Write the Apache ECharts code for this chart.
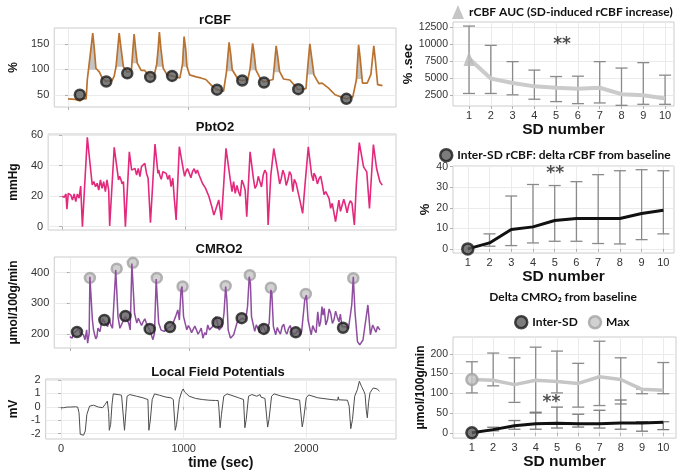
<!DOCTYPE html>
<html><head><meta charset="utf-8">
<script src="https://cdn.jsdelivr.net/npm/echarts@6/dist/echarts.min.js"></script>
<style>html,body{margin:0;padding:0;background:#fff}#c{width:680px;height:471px}</style>
</head><body><div id="c"></div>
<script>
// ---------- DATA ----------
const timeTicks = [0, 1000, 2000];
const rcbfTicks = [50, 100, 150];
const pbto2Ticks = [0, 20, 40, 60];
const cmro2Ticks = [200, 300, 400];
const lfpTicks = [-2, -1, 0, 1, 2];
const sdNumbers = [1, 2, 3, 4, 5, 6, 7, 8, 9, 10];
const aucTicks = [2500, 5000, 7500, 10000, 12500];
const interTicks = [0, 10, 20, 30, 40];
const deltaTicks = [0, 50, 100, 150, 200];

// rCBF trace [time sec, %]
const rcbfTrace = [[0,42],[60,41],[100,38],[120,43],[150,42],[160,80],[170,100],[190,140],[205,171],[218,140],[231,102],[259,95],[285,82],[317,76],[365,78],[382,86],[398,105],[412,140],[424,171],[440,140],[459,105],[486,95],[508,95],[526,100],[538,140],[548,169],[560,140],[574,112],[606,98],[633,98],[681,85],[713,86],[735,110],[747,140],[757,173],[770,140],[789,102],[821,89],[863,87],[927,83],[949,110],[962,164],[975,140],[986,105],[1008,89],[1062,85],[1100,83],[1142,80],[1195,67],[1235,60],[1289,57],[1313,95],[1335,153],[1348,130],[1361,99],[1410,80],[1444,78],[1490,80],[1508,100],[1530,151],[1543,130],[1557,99],[1597,80],[1624,75],[1699,80],[1707,100],[1725,146],[1738,125],[1753,96],[1785,81],[1838,79],[1891,65],[1908,60],[1972,62],[1985,100],[2004,150],[2018,125],[2038,89],[2079,72],[2106,73],[2159,63],[2213,50],[2307,42],[2360,46],[2390,80],[2408,148],[2422,120],[2440,73],[2480,73],[2510,90],[2534,146],[2548,115],[2566,70],[2606,68]];
const rcbfInterSD = [[98,50],[317,76],[491,92],[681,85],[863,87],[1235,60],[1444,78],[1624,74],[1908,61],[2307,42]];
// SD-induced increase windows: [start sec, end sec, baseline %]
const rcbfAucWindows = [[165,235,99],[395,460,105],[528,575,112],[735,790,105],[945,990,105],[1310,1362,96],[1505,1558,98],[1705,1755,94],[1983,2038,90],[2390,2440,81]];

// PbtO2 trace [time sec, mmHg]
const pbto2Trace = [[0,20],[17,19.2],[31,21.4],[39,11.4],[50,21.8],[71,20.7],[84,17.5],[98,21.4],[111,16.4],[124,21.4],[138,18.6],[151,26.6],[165,0],[173,0],[205,58.5],[245,27.3],[258,29.5],[272,26.2],[285,28.4],[298,24],[312,30.6],[325,25.1],[338,29.5],[352,22.9],[365,30.6],[379,24],[387,0.4],[424,52],[459,30.6],[468,33],[478,31],[488,28],[499,29.5],[515,0],[547,49],[566,37],[580,36],[593,38.2],[606,33.8],[620,38.2],[633,32.8],[646,39.3],[660,40.4],[673,41.5],[687,34.9],[700,31.7],[719,2.6],[756,54.1],[780,34.9],[787,37],[794,33.8],[807,31],[820,36],[833,37],[847,34.9],[860,31],[874,33.8],[887,26.2],[901,31.7],[914,17.5],[928,4.4],[954,52.4],[962,53],[986,37.6],[997,33],[1008,36],[1020,38],[1035,34.9],[1048,32],[1061,36],[1075,38],[1088,34.9],[1101,37.1],[1115,33.8],[1142,28.4],[1168,25.1],[1195,19.7],[1222,12],[1235,7.6],[1249,10.9],[1275,17.5],[1297,4.4],[1334,51.3],[1369,30.6],[1383,22.9],[1396,29.5],[1409,21.8],[1423,27],[1436,22.9],[1450,20],[1463,30.5],[1476,28],[1490,24],[1503,6.5],[1530,49],[1557,31.6],[1570,25],[1584,27.2],[1597,33],[1610,29.4],[1623,26],[1637,33.8],[1650,37],[1664,34.9],[1677,1.1],[1699,33.8],[1723,51.2],[1758,34.9],[1771,28],[1784,31.6],[1797,37],[1811,33.8],[1824,27],[1838,30.5],[1851,36],[1865,33.8],[1871,28],[1878,22.9],[1890,31],[1905,28.3],[1932,18.5],[1958,8.7],[1977,27.2],[2004,52.3],[2031,33.8],[2045,30],[2050,35],[2065,32.7],[2078,28],[2092,31.6],[2105,33],[2119,27.2],[2132,21],[2146,22.9],[2160,24],[2173,18.5],[2186,12],[2199,15.3],[2226,3.3],[2253,17.4],[2266,10],[2280,14.2],[2293,18],[2306,14.2],[2320,9],[2333,14.2],[2346,17],[2360,15.3],[2379,1.1],[2395,27.2],[2419,55.1],[2454,39.2],[2480,35.9],[2502,12],[2534,53.8],[2560,38.1],[2587,29.4],[2606,27.2]];

// CMRO2 trace [time sec, umol/100g/min]
const cmro2Trace = [[0,192],[19,187],[33,203],[46,198],[60,212],[73,219],[87,203],[100,205],[114,198],[127,182],[141,214],[149,171],[162,203],[168,387],[176,387],[189,246],[198,215],[208,198],[217,185],[227,192],[235,220],[243,214],[252,208],[262,230],[275,250],[289,246],[302,232],[316,225],[330,248],[343,230],[357,219],[370,225],[384,409],[392,414],[403,257],[419,219],[438,236],[465,257],[492,236],[505,214],[519,430],[530,430],[541,268],[560,236],[573,252],[587,246],[600,228],[614,241],[627,250],[640,236],[655,222],[668,214],[695,182],[708,203],[722,379],[730,379],[743,236],[762,214],[789,209],[816,219],[838,223],[857,230],[884,257],[903,279],[916,246],[930,344],[938,355],[951,257],[978,214],[991,228],[1005,219],[1018,205],[1032,209],[1045,226],[1059,214],[1072,200],[1086,209],[1099,220],[1113,187],[1127,205],[1140,198],[1153,230],[1167,214],[1181,212],[1194,225],[1208,240],[1221,257],[1248,214],[1275,225],[1289,268],[1303,355],[1313,311],[1324,214],[1343,187],[1370,198],[1397,236],[1437,252],[1470,246],[1486,290],[1500,387],[1510,365],[1519,257],[1546,209],[1559,230],[1573,219],[1586,205],[1600,216],[1613,232],[1640,203],[1653,220],[1667,236],[1681,344],[1689,333],[1702,225],[1721,198],[1735,222],[1748,209],[1761,200],[1775,225],[1789,232],[1802,209],[1815,200],[1829,219],[1843,228],[1856,209],[1870,200],[1891,203],[1908,215],[1924,198],[1938,208],[1951,209],[1964,311],[1978,327],[1992,246],[2018,198],[2031,228],[2045,214],[2059,205],[2073,273],[2086,225],[2097,240],[2108,290],[2117,262],[2127,284],[2140,230],[2154,246],[2168,282],[2181,268],[2195,235],[2208,246],[2222,275],[2235,257],[2250,240],[2262,265],[2275,225],[2303,224],[2330,219],[2357,295],[2370,387],[2384,273],[2405,176],[2424,165],[2451,181],[2492,295],[2513,198],[2532,230],[2559,206],[2573,225],[2592,214]];
const cmro2InterSD = [[60,207],[289,246],[465,259],[668,217],[838,223],[1235,238],[1437,252],[1622,217],[1889,206],[2284,221]];
const cmro2Max = [[168,383],[392,413],[527,432],[727,383],[943,355],[1303,357],[1505,392],[1681,351],[1973,331],[2370,382]];

// LFP trace [time sec, mV]
const lfpTrace = [[0,-0.07],[22,-0.07],[35,0.05],[49,-0.02],[76,-0.02],[116,0],[135,-0.02],[146,-0.44],[156,-2.05],[170,-2.17],[183,-2.12],[197,-1.8],[210,-0.57],[232,0.05],[264,0.12],[304,-0.02],[339,-0.07],[358,0.17],[377,0.42],[388,-0.44],[393,-1.75],[404,-1.31],[415,0.17],[425,0.96],[439,1.04],[466,0.91],[493,0.86],[506,0.72],[517,-1.75],[528,-0.44],[538,0.79],[560,0.91],[614,0.79],[667,0.67],[708,0.54],[716,-1.75],[727,-1.06],[743,0.54],[762,0.96],[802,0.86],[856,0.72],[896,0.67],[915,0.54],[931,-1.75],[942,-1.31],[964,0.54],[985,1.16],[996,1.33],[1007,1.11],[1044,0.79],[1098,0.62],[1152,0.54],[1206,0.49],[1260,0.47],[1281,0.47],[1287,-0.07],[1297,-1.56],[1308,-0.57],[1327,0.79],[1354,0.96],[1394,0.84],[1448,0.67],[1488,0.54],[1499,-1.56],[1510,-0.94],[1529,0.79],[1556,0.91],[1596,0.79],[1623,0.91],[1631,0.72],[1663,0.62],[1677,0.54],[1685,-1.51],[1696,-0.94],[1717,0.79],[1738,0.96],[1798,0.79],[1879,0.62],[1946,0.49],[1959,0.42],[1967,-1.5],[1978,-0.94],[2000,0.67],[2020,0.88],[2094,0.67],[2202,0.54],[2256,0.49],[2261,0.74],[2266,0.52],[2336,0.49],[2350,0.04],[2363,-1.63],[2377,-0.94],[2395,0.79],[2417,1.28],[2433,1.9],[2450,1.53],[2470,1.16],[2480,0.9],[2490,-0.3],[2498,-0.82],[2508,0.3],[2520,1.04],[2546,1.4],[2578,1.33],[2597,1.16]];

// Right panels (per SD number)
const aucMean = [7900, 4950, 4300, 3800, 3600, 3450, 3600, 2650, 2500, 2000];
const aucLow  = [2750, 2750, 2550, 1900, 1550, 1250, 1350, 1000, 1150, 1150];
const aucHigh = [12700, 9850, 7450, 6200, 5250, 5300, 7450, 6500, 7300, 5450];

const interMean = [0, 2.9, 9.4, 10.7, 13.8, 14.8, 14.8, 14.8, 17.2, 18.8];
const interLow  = [0, 1.3, 1.6, 2.9, 3.7, 3.7, 2.6, 2.4, 4.5, 7.3];
const interHigh = [0, 7.3, 25.7, 31.3, 30.8, 32.7, 36.1, 38.0, 38.5, 38.0];

const cmroMaxMean = [135, 133, 122, 133, 130, 125, 142, 135, 110, 108];
const cmroMaxLow  = [101, 119, 77, 50, 101, 65, 69, 73, 99, 99];
const cmroMaxHigh = [180, 202, 190, 217, 207, 176, 232, 190, 111, 178];

const cmroInterMean = [0, 8, 18, 23, 24, 22.7, 23, 25, 25, 26.6];
const cmroInterLow  = [0, 5, 9, 9, 12, 14.5, 12, 9, 4, 8];
const cmroInterHigh = [0, 14, 31, 52, 65, 47, 57, 83, 28, 28];

// ---------- CHART ----------
const chart = echarts.init(document.getElementById('c'));
const AR = 'Liberation Sans, Arial, sans-serif';
const CAL = 'Lato, Liberation Sans, sans-serif';
const GRID_LINE = '#ebebeb';
const BORDER = '#cccccc';
const LAB = '#333333';
const plain = v => String(v);

const grids = [
  {left: 40, top: 28, width: 356, height: 79},
  {left: 40, top: 134, width: 356, height: 96},
  {left: 43, top: 257, width: 353, height: 91},
  {left: 42, top: 379, width: 354, height: 61},
  {left: 453, top: 22, width: 221, height: 84},
  {left: 453, top: 166, width: 221, height: 87},
  {left: 453, top: 337, width: 223, height: 106}
].map(g => Object.assign({show: true, borderColor: BORDER, borderWidth: 1, backgroundColor: '#fff', containLabel: false}, g));

function xAx(gi, min, max, ticks, showLabel, name, nameGap, nameSize) {
  return {
    type: 'value', gridIndex: gi, min: min, max: max,
    axisLine: {show: false},
    axisTick: {show: true, length: 3, lineStyle: {color: '#b0b0b0'}, customValues: ticks},
    axisLabel: {show: showLabel, customValues: ticks, formatter: plain, color: LAB, fontFamily: AR, fontSize: 11, margin: 4},
    splitLine: {show: true, lineStyle: {color: GRID_LINE, width: 1}},
    name: name || '', nameLocation: 'middle', nameGap: nameGap || 0,
    nameTextStyle: {fontFamily: AR, fontWeight: 'bold', fontSize: nameSize || 14, color: '#111'}
  };
}
function yAx(gi, min, max, ticks, name, nameGap, nameSize, labelSize) {
  return {
    type: 'value', gridIndex: gi, min: min, max: max,
    axisLine: {show: false},
    axisTick: {show: true, length: 3, lineStyle: {color: '#b0b0b0'}, customValues: ticks},
    axisLabel: {customValues: ticks, formatter: plain, color: LAB, fontFamily: AR, fontSize: labelSize || 11, margin: 5},
    splitLine: {show: true, lineStyle: {color: GRID_LINE, width: 1}},
    name: name, nameLocation: 'middle', nameGap: nameGap, nameRotate: 90,
    nameTextStyle: {fontFamily: AR, fontWeight: 'bold', fontSize: nameSize || 12, color: '#111'}
  };
}

const xAxes = [
  xAx(0, -114, 2718, timeTicks, false),
  xAx(1, -114, 2718, timeTicks, false),
  xAx(2, -130, 2727, timeTicks, false),
  xAx(3, -126, 2732, timeTicks, true, 'time (sec)', 17, 14),
  xAx(4, 0.265, 10.41, sdNumbers, true, 'SD number', 16, 15.5),
  xAx(5, 0.32, 10.49, sdNumbers, true, 'SD number', 16, 15.5),
  xAx(6, 0.11, 10.6, sdNumbers, true, 'SD number', 14, 15.5)
];
const yAxes = [
  yAx(0, 26, 181, rcbfTicks, '%', 27),
  yAx(1, -2.2, 60.7, pbto2Ticks, 'mmHg', 25),
  yAx(2, 155, 451, cmro2Ticks, 'μmol/100g/min', 26),
  yAx(3, -2.4, 2.07, lfpTicks, 'mV', 19),
  yAx(4, 900, 13300, aucTicks, '% .sec', 33, 13, 10.5),
  yAx(5, -2, 40.3, interTicks, '%', 21, 13, 10.5),
  yAx(6, -13.5, 242.7, deltaTicks, 'μmol/100g/min', 18, 12, 10.5)
];

function errRender(color) {
  return function (params, api) {
    const x = api.value(0), lo = api.value(1), hi = api.value(2);
    if (!(hi > lo)) return null;
    const a = api.coord([x, hi]), b = api.coord([x, lo]);
    const h = 6;
    const st = {stroke: color, lineWidth: 1.3};
    return {type: 'group', children: [
      {type: 'line', shape: {x1: a[0], y1: a[1], x2: b[0], y2: b[1]}, style: st},
      {type: 'line', shape: {x1: a[0] - h, y1: a[1], x2: a[0] + h, y2: a[1]}, style: st},
      {type: 'line', shape: {x1: b[0] - h, y1: b[1], x2: b[0] + h, y2: b[1]}, style: st}
    ]};
  };
}
const zip = (xs, ys) => xs.map((x, i) => [x, ys[i]]);
const errData = (lo, hi) => sdNumbers.map((s, i) => [s, lo[i], hi[i]]);

function starSeries(gi, x, y) {
  return {type: 'scatter', xAxisIndex: gi, yAxisIndex: gi, symbolSize: 1, itemStyle: {color: 'rgba(0,0,0,0)'},
    data: [[x, y]], z: 10,
    label: {show: true, position: 'inside', formatter: '**', fontFamily: 'DejaVu Sans', fontSize: 17, fontWeight: 'bold', color: '#222'}};
}

const darkDot = {color: '#5b5b5b', borderColor: '#1c1c1c', borderWidth: 2.5};
const greyDot = {color: '#c6c6c6', borderColor: '#a3a3a3', borderWidth: 2.5};

const series = [
  // rCBF fill
  {type: 'custom', xAxisIndex: 0, yAxisIndex: 0, z: 1,
   data: rcbfAucWindows.map(w => [w[0], w[2], w[1]]),
   encode: {x: [0, 2], y: 1},
   renderItem: function (params, api) {
     const w = rcbfAucWindows[params.dataIndex];
     const pts = rcbfTrace.filter(p => p[0] >= w[0] && p[0] <= w[1]).map(p => api.coord([p[0], Math.max(p[1], w[2])]));
     pts.push(api.coord([w[1], w[2]]));
     pts.push(api.coord([w[0], w[2]]));
     return {type: 'polygon', shape: {points: pts}, style: {fill: '#c4c4c4'}};
   }},
  {type: 'line', xAxisIndex: 0, yAxisIndex: 0, data: rcbfTrace, showSymbol: false, z: 2,
   lineStyle: {color: '#b9722f', width: 1.7}},
  {type: 'scatter', xAxisIndex: 0, yAxisIndex: 0, data: rcbfInterSD, symbolSize: 10, itemStyle: darkDot, z: 3},
  // PbtO2
  {type: 'line', xAxisIndex: 1, yAxisIndex: 1, data: pbto2Trace, showSymbol: false,
   lineStyle: {color: '#e3297c', width: 1.6}},
  // CMRO2
  {type: 'scatter', xAxisIndex: 2, yAxisIndex: 2, data: cmro2Max, symbolSize: 10, itemStyle: greyDot, z: 1},
  {type: 'line', xAxisIndex: 2, yAxisIndex: 2, data: cmro2Trace, showSymbol: false, z: 2,
   lineStyle: {color: '#8e4d9f', width: 1.5}},
  {type: 'scatter', xAxisIndex: 2, yAxisIndex: 2, data: cmro2InterSD, symbolSize: 10, itemStyle: darkDot, z: 3},
  // LFP
  {type: 'line', xAxisIndex: 3, yAxisIndex: 3, data: lfpTrace, showSymbol: false,
   lineStyle: {color: '#4d4d4d', width: 1}},
  // Right 1: rCBF AUC
  {type: 'custom', xAxisIndex: 4, yAxisIndex: 4, data: errData(aucLow, aucHigh), encode: {x: 0, y: [1, 2]},
   renderItem: errRender('#8a8a8a'), z: 2},
  {type: 'line', xAxisIndex: 4, yAxisIndex: 4, data: zip(sdNumbers, aucMean), showSymbol: false, z: 3,
   lineStyle: {color: '#cbcbcb', width: 4}},
  {type: 'scatter', name: 'rCBF AUC (SD-induced rCBF increase)', xAxisIndex: 4, yAxisIndex: 4,
   data: [[sdNumbers[0], aucMean[0]]], symbol: 'triangle', symbolSize: [11, 15], itemStyle: {color: '#b8b8b8'}, z: 4},
  starSeries(4, 5.27, 10000),
  // Right 2: inter-SD rCBF
  {type: 'custom', xAxisIndex: 5, yAxisIndex: 5, data: errData(interLow, interHigh), encode: {x: 0, y: [1, 2]},
   renderItem: errRender('#8a8a8a'), z: 2},
  {type: 'line', xAxisIndex: 5, yAxisIndex: 5, data: zip(sdNumbers, interMean), showSymbol: false, z: 3,
   lineStyle: {color: '#111', width: 3}},
  {type: 'scatter', name: 'Inter-SD rCBF: delta rCBF from baseline', xAxisIndex: 5, yAxisIndex: 5,
   data: [[sdNumbers[0], interMean[0]]], symbolSize: 11, itemStyle: darkDot, z: 4},
  starSeries(5, 5.02, 36.7),
  // Right 3: delta CMRO2
  {type: 'custom', xAxisIndex: 6, yAxisIndex: 6, data: errData(cmroMaxLow, cmroMaxHigh), encode: {x: 0, y: [1, 2]},
   renderItem: errRender('#8a8a8a'), z: 2},
  {type: 'custom', xAxisIndex: 6, yAxisIndex: 6, data: errData(cmroInterLow, cmroInterHigh), encode: {x: 0, y: [1, 2]},
   renderItem: errRender('#7a7a7a'), z: 2},
  {type: 'line', xAxisIndex: 6, yAxisIndex: 6, data: zip(sdNumbers, cmroMaxMean), showSymbol: false, z: 3,
   lineStyle: {color: '#c6c6c6', width: 3.5}},
  {type: 'line', xAxisIndex: 6, yAxisIndex: 6, data: zip(sdNumbers, cmroInterMean), showSymbol: false, z: 3,
   lineStyle: {color: '#111', width: 3}},
  {type: 'scatter', name: 'Max', xAxisIndex: 6, yAxisIndex: 6, data: [[sdNumbers[0], cmroMaxMean[0]]],
   symbolSize: 11, itemStyle: greyDot, z: 4},
  {type: 'scatter', name: 'Inter-SD', xAxisIndex: 6, yAxisIndex: 6, data: [[sdNumbers[0], cmroInterMean[0]]],
   symbolSize: 11, itemStyle: darkDot, z: 4},
  starSeries(6, 4.74, 76)
];

const legTxt = {fontFamily: CAL, fontWeight: 'bold', fontSize: 12, color: '#111'};
const legends = [
  {left: 452, top: 5, padding: 0, itemWidth: 12, itemHeight: 14, selectedMode: false, textStyle: legTxt,
   data: [{name: 'rCBF AUC (SD-induced rCBF increase)', icon: 'triangle', itemStyle: {color: '#b8b8b8'}}]},
  {left: 439, top: 148, padding: 0, itemWidth: 12, itemHeight: 12, selectedMode: false, textStyle: legTxt,
   data: [{name: 'Inter-SD rCBF: delta rCBF from baseline', icon: 'circle', itemStyle: darkDot}]},
  {left: 514, top: 315, padding: 0, itemWidth: 12, itemHeight: 12, itemGap: 10, selectedMode: false, textStyle: legTxt,
   data: [{name: 'Inter-SD', icon: 'circle', itemStyle: darkDot}, {name: 'Max', icon: 'circle', itemStyle: greyDot}]}
];

function titleText(text, x, y, font) {
  return {type: 'text', x: x, y: y, silent: true,
    style: {text: text, align: 'center', verticalAlign: 'middle', fill: '#111', font: font}};
}
const graphics = [
  titleText('rCBF', 215, 20, 'bold 13px "Liberation Sans", Arial'),
  titleText('PbtO2', 215, 127, 'bold 13px "Liberation Sans", Arial'),
  titleText('CMRO2', 219, 249, 'bold 13px "Liberation Sans", Arial'),
  titleText('Local Field Potentials', 218, 372, 'bold 13px "Liberation Sans", Arial'),
  titleText('Delta CMRO₂ from baseline', 563, 297, 'bold 12px Lato, "DejaVu Sans"')
];

chart.setOption({
  animation: false,
  backgroundColor: '#fff',
  grid: grids,
  xAxis: xAxes,
  yAxis: yAxes,
  legend: legends,
  graphic: graphics,
  series: series
});
</script>
</body></html>
